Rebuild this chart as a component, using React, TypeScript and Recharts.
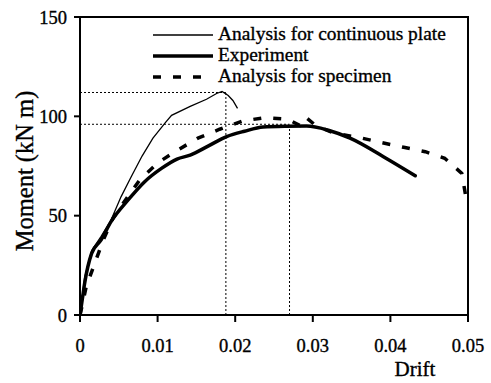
import React from "react";
import { LineChart, Line, XAxis, YAxis, ReferenceLine, Label } from "recharts";

// Analysis for continuous plate (thin line)
const plateDrift = [0, 0.0006, 0.0015, 0.0027, 0.004, 0.0053, 0.0066, 0.008, 0.0094, 0.011, 0.0118, 0.0142, 0.0163, 0.0176, 0.0183, 0.0191, 0.0197, 0.0203];
const plateMoment = [0, 19, 32.5, 39.5, 47.8, 59.6, 69.6, 80, 89, 96.8, 100.5, 105, 108.6, 111.5, 112.5, 110.5, 108, 104];

// Experiment (thick line)
const expDrift = [0, 0.0003, 0.0006, 0.0015, 0.0027, 0.004, 0.0062, 0.0083, 0.0105, 0.0125, 0.0142, 0.0165, 0.0189, 0.0212, 0.0236, 0.0265, 0.0292, 0.032, 0.0348, 0.0391, 0.0432];
const expMoment = [0, 8, 16, 31, 37.7, 47, 57.9, 67, 73.8, 78.5, 80.5, 85, 89.8, 92.5, 94.6, 95, 95.1, 93, 89, 79.7, 70.1];

// Analysis for specimen (dashed line)
const specDrift = [0, 0.0003, 0.0008, 0.0019, 0.003, 0.00425, 0.006, 0.0077, 0.0101, 0.0124, 0.0152, 0.018, 0.021, 0.0238, 0.0268, 0.0283, 0.0291, 0.0305, 0.0329, 0.0359, 0.0387, 0.0417, 0.0445, 0.047, 0.0492, 0.0497];
const specMoment = [0, 5, 14.3, 26, 37.8, 48.7, 58.7, 68, 76.8, 82.6, 89, 93.5, 97.7, 99.3, 98.5, 95.5, 99.5, 95, 91.4, 89.4, 86.9, 84.4, 82.2, 78.9, 71.3, 60];

// peak markers: (drift, moment)
const plateMax = { drift: 0.0188, moment: 112 };
const expMax = { drift: 0.027, moment: 96 };

const xTicks = [0, 0.01, 0.02, 0.03, 0.04, 0.05];
const yTicks = [0, 50, 100, 150];

const zip = (xs: number[], ys: number[]) => xs.map((x, i) => ({ x, y: ys[i] }));

const plateData = zip(plateDrift, plateMoment);
const expData = zip(expDrift, expMoment);
const specData = zip(specDrift, specMoment);

const FONT = "'Liberation Serif', 'Times New Roman', serif";
const tickStyle = { fontSize: 18.5, fill: "#000", fontFamily: FONT, stroke: "#000", strokeWidth: 0.35 };
const axisStroke = { stroke: "#000", strokeWidth: 2 };

const legendItems = [
  { label: "Analysis for continuous plate", width: 1.3, dash: undefined },
  { label: "Experiment", width: 3.5, dash: undefined },
  { label: "Analysis for specimen", width: 3.5, dash: "8 12" },
];

function LegendBox() {
  return (
    <div
      style={{
        position: "absolute",
        left: 151,
        top: 23,
        fontFamily: FONT,
        fontSize: 19.4,
        color: "#000",
        lineHeight: "21px",
        WebkitTextStroke: "0.35px #000",
      }}
    >
      {legendItems.map((it) => (
        <div key={it.label} style={{ display: "flex", alignItems: "center", height: 21 }}>
          <svg width={64} height={21} style={{ marginRight: 3 }}>
            <line x1={2} y1={12} x2={62} y2={12} stroke="#000" strokeWidth={it.width} strokeDasharray={it.dash} />
          </svg>
          <span>{it.label}</span>
        </div>
      ))}
    </div>
  );
}

export default function App() {
  return (
    <div style={{ position: "absolute", left: 0, top: 0, width: 491, height: 383, background: "#fff" }}>
      <LineChart width={491} height={383} margin={{ top: 17, right: 23, bottom: 8, left: 20 }}>
        <XAxis
          type="number"
          dataKey="x"
          domain={[0, 0.05]}
          ticks={xTicks}
          tickFormatter={(v: number) => String(v)}
          height={60}
          tickSize={7}
          tickMargin={17}
          tick={tickStyle}
          axisLine={axisStroke}
          tickLine={axisStroke}
          allowDataOverflow
        >
          <Label
            content={(props: any) => {
              const vb = props.viewBox || { x: 80, y: 315 };
              return (
                <text
                  x={vb.x + 335}
                  y={vb.y + 61}
                  textAnchor="middle"
                  fontFamily={FONT}
                  fontSize={21}
                  fill="#000"
                  stroke="#000"
                  strokeWidth={0.35}
                >
                  Drift
                </text>
              );
            }}
          />
        </XAxis>
        <YAxis
          type="number"
          domain={[0, 150]}
          ticks={yTicks}
          width={60}
          tickSize={6}
          tickMargin={7}
          tick={tickStyle}
          axisLine={axisStroke}
          tickLine={axisStroke}
          allowDataOverflow
        >
          <Label
            content={() => (
              <text
                x={24}
                y={171}
                transform="rotate(-90 24 171)"
                textAnchor="middle"
                dominantBaseline="central"
                fontFamily={FONT}
                fontSize={24.5}
                fill="#000"
                stroke="#000"
                strokeWidth={0.35}
              >
                Moment (kN m)
              </text>
            )}
          />
        </YAxis>

        {/* dotted guides to peak moments */}
        <ReferenceLine segment={[{ x: 0, y: plateMax.moment }, { x: plateMax.drift, y: plateMax.moment }]} stroke="#000" strokeWidth={1} strokeDasharray="2 2" />
        <ReferenceLine segment={[{ x: plateMax.drift, y: 0 }, { x: plateMax.drift, y: plateMax.moment }]} stroke="#000" strokeWidth={1} strokeDasharray="2 2" />
        <ReferenceLine segment={[{ x: 0, y: expMax.moment }, { x: expMax.drift, y: expMax.moment }]} stroke="#000" strokeWidth={1} strokeDasharray="2 2" />
        <ReferenceLine segment={[{ x: expMax.drift, y: 0 }, { x: expMax.drift, y: expMax.moment }]} stroke="#000" strokeWidth={1} strokeDasharray="2 2" />

        <Line data={plateData} dataKey="y" type="linear" stroke="#000" strokeWidth={1.3} dot={false} isAnimationActive={false} />
        <Line data={expData} dataKey="y" type="monotone" stroke="#000" strokeWidth={3.5} strokeLinecap="round" dot={false} isAnimationActive={false} />
        <Line data={specData} dataKey="y" type="linear" stroke="#000" strokeWidth={3.5} strokeDasharray="8 12" dot={false} isAnimationActive={false} />
      </LineChart>
      {/* top and right edges of the plot frame */}
      <div
        style={{
          position: "absolute",
          left: 79,
          top: 16,
          width: 388,
          height: 298,
          borderTop: "2px solid #000",
          borderRight: "2px solid #000",
          pointerEvents: "none",
        }}
      />
      <LegendBox />
    </div>
  );
}
